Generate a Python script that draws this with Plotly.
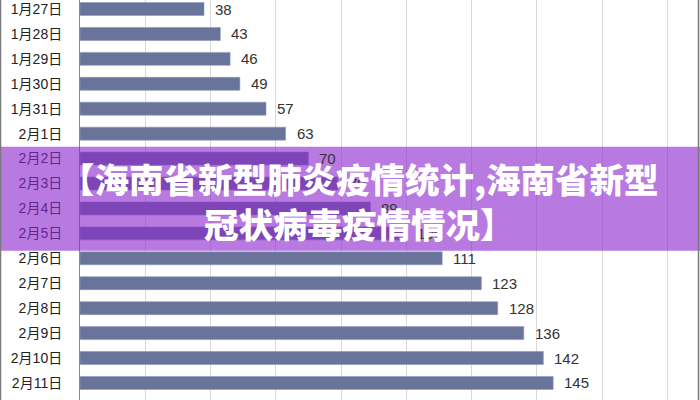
import plotly.graph_objs as go

dates = ["1月27日", "1月28日", "1月29日", "1月30日", "1月31日", "2月1日", "2月2日", "2月3日",
         "2月4日", "2月5日", "2月6日", "2月7日", "2月8日", "2月9日", "2月10日", "2月11日"]
cases = [38, 43, 46, 49, 57, 63, 70, 79, 89, 100, 111, 123, 128, 136, 142, 145]
title_text = "【海南省新型肺炎疫情统计,海南省新型<br>冠状病毒疫情情况】"

fig = go.Figure(go.Bar(
    x=cases,
    y=dates,
    orientation="h",
    width=0.52,
    marker=dict(color="#68749a", line=dict(color="#8e97b8", width=0.6)),
    hoverinfo="x+y")
)

# value labels next to each bar
for d, c in zip(dates, cases):
    fig.add_annotation(x=c, y=d, text=str(c), showarrow=False, xanchor="left", xshift=9,
                       font=dict(family="Liberation Sans, Arial", size=15, color="#333333"))

# purple banner across the middle
fig.add_shape(type="rect", xref="paper", yref="paper", x0=-0.13, x1=1.0, y0=0.373, y1=0.633,
              fillcolor="rgba(140,40,205,0.62)", line=dict(width=0), layer="above")
fig.add_annotation(xref="paper", yref="paper", x=0.4516, y=0.5, text=title_text, showarrow=False,
                   xanchor="center", yanchor="middle", align="center",
                   font=dict(family="Noto Sans CJK SC", size=34.5, color="white", weight=900))

# outer frame lines
fig.add_shape(type="line", xref="paper", yref="paper", x0=0.9976, x1=0.9976, y0=0, y1=1,
              line=dict(color="#7a7a7a", width=1.5), layer="above")
fig.add_shape(type="line", xref="paper", yref="paper", x0=-0.1282, x1=-0.1282, y0=0, y1=1,
              line=dict(color="#7a7a7a", width=1.5), layer="above")

fig.update_layout(
    width=700, height=400,
    margin=dict(l=80, r=0, t=0, b=0),
    plot_bgcolor="white", paper_bgcolor="white",
    showlegend=False,
    xaxis=dict(range=[0, 190.0], dtick=20, showgrid=True, gridcolor="#d9d9d9", gridwidth=1,
               zeroline=False, showticklabels=False, showline=False, automargin=False),
    yaxis=dict(type="category", range=[15.684, -0.361], showgrid=False, showline=True,
               linecolor="#8a8a8a", linewidth=1, ticks="", ticklabelstandoff=14, automargin=False,
               tickfont=dict(family="Liberation Sans, Noto Sans CJK SC", size=14, color="#222222")),
)

# drop the page's default body margin so the figure sits at the window corner
fig.write_html("out.html", config={"displayModeBar": False},
               post_script="document.body.style.margin='0';")
